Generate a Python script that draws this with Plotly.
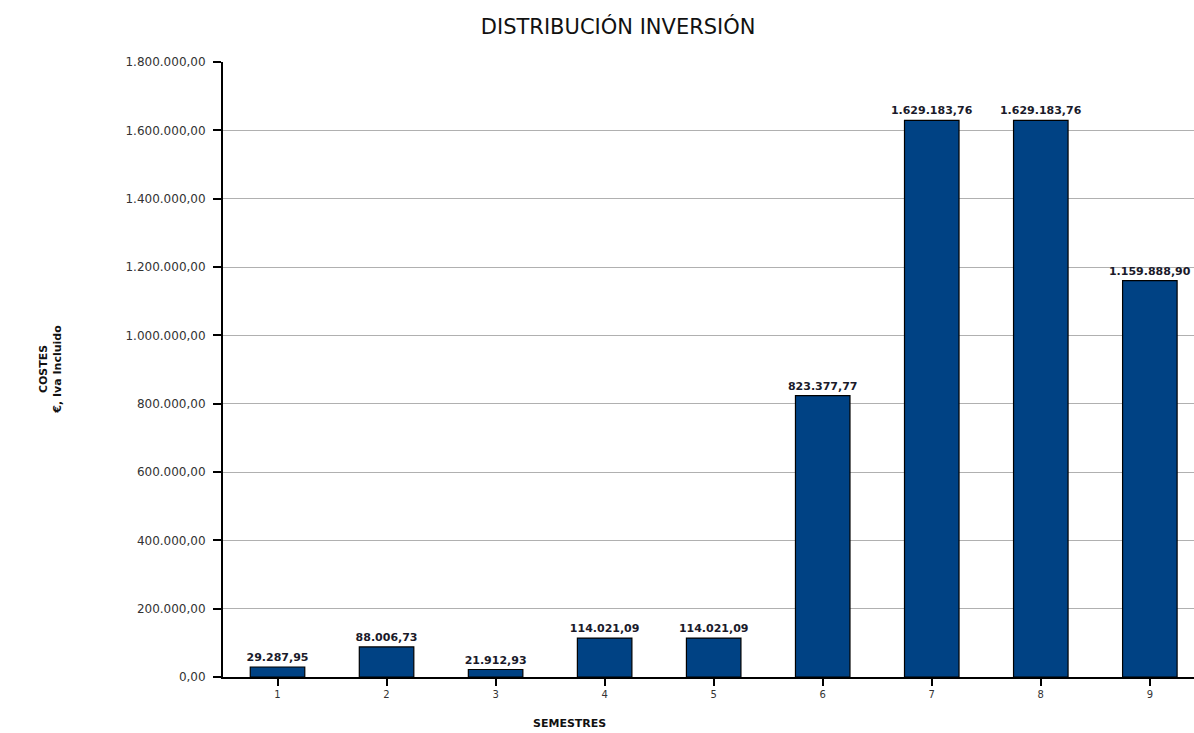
import plotly.graph_objects as go

semestres = [1, 2, 3, 4, 5, 6, 7, 8, 9]
costes = [29287.95, 88006.73, 21912.93, 114021.09, 114021.09, 823377.77,
          1629183.76, 1629183.76, 1159888.90]
y_ticks = [0, 200000, 400000, 600000, 800000, 1000000, 1200000, 1400000, 1600000, 1800000]

fig = go.Figure()
fig.add_trace(go.Bar(
    x=semestres, y=costes, width=0.5,
    marker=dict(color="#004284", line=dict(color="#000000", width=1.2)),
    texttemplate="<b>%{y:,.2f}</b>", textposition="outside", cliponaxis=False,
    constraintext="none",
    textfont=dict(family="DejaVu Sans", size=11, color="#1a1a2a"),
))

fig.update_layout(
    width=1194, height=733,
    separators=",.",
    paper_bgcolor="white", plot_bgcolor="white",
    margin=dict(l=223, r=0, t=62, b=56),
    showlegend=False,
    font=dict(family="DejaVu Sans", color="#222"),
    title=dict(text="DISTRIBUCIÓN INVERSIÓN", x=0.407, xanchor="center", xref="paper",
               y=0.963, yanchor="middle",
               font=dict(size=21, color="#111")),
    bargap=0.5,
)
fig.update_yaxes(
    range=[0, 1800000], tickvals=y_ticks, tickformat=",.2f",
    showgrid=True, gridcolor="#b0b0b0", gridwidth=1,
    showline=True, linecolor="#000", linewidth=2,
    ticks="outside", ticklen=8, tickcolor="#000", tickwidth=1.5,
    ticklabelstandoff=5,
    tickfont=dict(size=12, color="#333"), zeroline=False,
)
fig.update_xaxes(
    range=[0.5, 9.405], tickvals=semestres, tickson="boundaries",
    showline=True, linecolor="#000", linewidth=2,
    ticks="outside", ticklen=7, tickcolor="#000", tickwidth=1.5,
    tickfont=dict(size=10, color="#333"), showgrid=False,
)
fig.add_annotation(text="<b>COSTES</b><br><b>€, Iva Incluido</b>", xref="paper", yref="paper",
                   x=-0.178, y=0.5, textangle=-90, showarrow=False,
                   font=dict(size=11, color="#111"), xanchor="center", yanchor="middle")
fig.add_annotation(text="<b>SEMESTRES</b>", xref="paper", yref="paper",
                   x=0.357, y=-0.076, showarrow=False, yanchor="middle",
                   font=dict(size=11, color="#111"))

fig.write_html("out.html")
